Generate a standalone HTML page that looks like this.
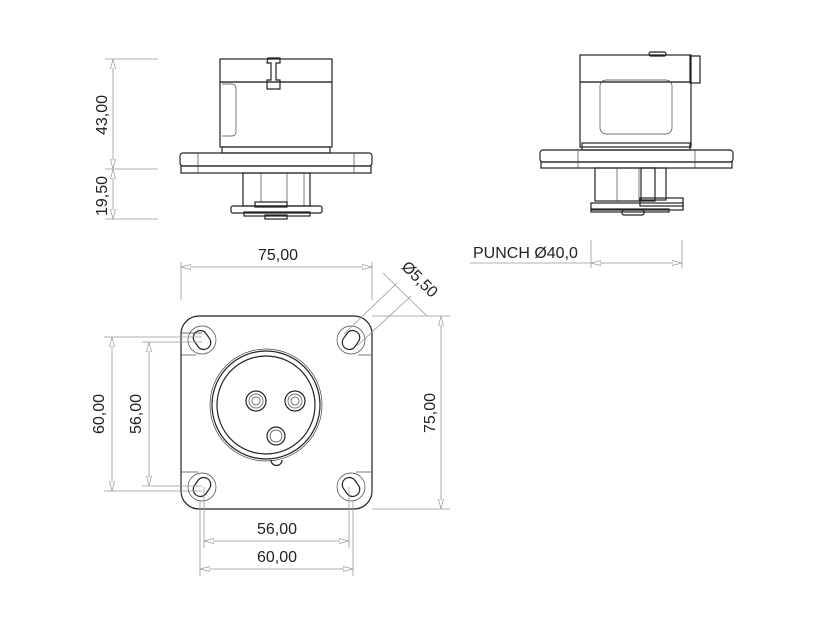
<!DOCTYPE html>
<html><head><style>
html,body{margin:0;padding:0;background:#fff}
svg{display:block}
text{font-family:"Liberation Sans",sans-serif;font-size:16px;fill:#222}
.o{fill:none;stroke:#222;stroke-width:1.2}
.t{fill:none;stroke:#444;stroke-width:0.7}
.d{fill:none;stroke:#999;stroke-width:0.8}
</style></head><body>
<svg width="825" height="625" viewBox="0 0 825 625" xmlns="http://www.w3.org/2000/svg">
<defs>
<marker id="m" markerWidth="10" markerHeight="6" refX="10" refY="3" orient="auto-start-reverse" markerUnits="userSpaceOnUse">
<path d="M0,0.5 L10,3 L0,5.5 Z" fill="#fff" stroke="#999" stroke-width="0.7"/></marker>
</defs>

<!-- FRONT VIEW -->
<rect class="o" x="220" y="59" width="112" height="23"/>
<rect class="o" x="220" y="82" width="112" height="65"/>
<path class="t" d="M222,84 h10 a4,4 0 0 1 4,4 v44 a4,4 0 0 1 -4,4 h-10"/>
<path class="o" d="M268,58 h12 v5 h-4 v17 h4 v9 h-13 v-9 h4 v-17 h-4 z"/>
<rect class="o" x="222" y="147" width="108" height="6"/>
<rect class="o" x="180" y="153" width="192" height="13" rx="3"/>
<rect class="o" x="181" y="166" width="190" height="7"/>
<line class="t" x1="198" y1="153" x2="198" y2="173"/><line class="t" x1="354" y1="153" x2="354" y2="173"/>
<rect class="o" x="243" y="173" width="67" height="33"/>
<line class="t" x1="261" y1="173" x2="261" y2="202"/><line class="t" x1="287" y1="173" x2="287" y2="202"/>
<line class="t" x1="304" y1="173" x2="304" y2="206"/>
<rect class="o" x="255" y="202" width="32" height="5"/>
<rect class="o" x="231" y="206" width="91" height="7" rx="2"/>
<rect class="o" x="244" y="212" width="66" height="4"/>
<rect class="o" x="265" y="215" width="22" height="4"/>

<!-- front dims -->
<line class="d" x1="105" y1="59" x2="158" y2="59"/>
<line class="d" x1="105" y1="169" x2="158" y2="169"/>
<line class="d" x1="105" y1="219" x2="158" y2="219"/>
<line class="d" x1="113" y1="59" x2="113" y2="169" marker-start="url(#m)" marker-end="url(#m)"/>
<line class="d" x1="113" y1="169" x2="113" y2="219" marker-start="url(#m)" marker-end="url(#m)"/>
<text transform="translate(107,115) rotate(-90)" text-anchor="middle">43,00</text>
<text transform="translate(107,196) rotate(-90)" text-anchor="middle">19,50</text>

<!-- SIDE VIEW -->
<rect class="o" x="649" y="52" width="17" height="4" rx="2"/>
<rect class="o" x="580" y="55" width="111" height="27"/>
<rect class="o" x="690" y="56" width="10" height="27"/>
<rect class="o" x="580" y="82" width="111" height="65"/>
<rect class="t" x="600" y="80" width="72" height="54" rx="6"/>
<rect class="o" x="582" y="143" width="108" height="7"/>
<rect class="o" x="540" y="150" width="193" height="12" rx="3"/>
<rect class="o" x="541" y="162" width="191" height="6"/>
<line class="t" x1="578" y1="150" x2="578" y2="168"/><line class="t" x1="695" y1="150" x2="695" y2="168"/>
<rect class="o" x="595" y="168" width="60" height="33"/>
<line class="t" x1="617" y1="168" x2="617" y2="201"/><line class="t" x1="639" y1="168" x2="639" y2="201"/>
<rect class="o" x="641" y="168" width="25" height="32"/>
<rect class="o" x="640" y="198" width="43" height="8"/>
<rect class="o" x="591" y="203" width="92" height="7"/>
<rect class="o" x="591" y="209" width="78" height="3"/>
<rect class="o" x="622" y="210" width="22" height="5" rx="2"/>

<!-- punch dim -->
<line class="d" x1="591" y1="240" x2="591" y2="268"/>
<line class="d" x1="682" y1="240" x2="682" y2="268"/>
<line class="d" x1="470" y1="263" x2="591" y2="263"/>
<line class="d" x1="591" y1="263" x2="682" y2="263" marker-start="url(#m)" marker-end="url(#m)"/>
<text x="473" y="258">PUNCH Ø40,0</text>

<!-- PLAN VIEW -->
<rect class="o" x="181" y="316" width="191" height="193" rx="18"/>
<line class="t" x1="181" y1="333" x2="202" y2="333"/>
<line class="t" x1="181" y1="355" x2="196" y2="355"/>
<line class="t" x1="181" y1="472" x2="198" y2="472"/>
<line class="t" x1="372" y1="355" x2="358" y2="355"/>
<line class="t" x1="372" y1="472" x2="356" y2="472"/>
<g class="t">
<circle cx="202" cy="340" r="14"/><circle cx="351" cy="340" r="14"/>
<circle cx="202" cy="487" r="14"/><circle cx="351" cy="487" r="14"/>
</g>
<g class="o">
<rect x="192" y="333" width="20" height="14" rx="7" transform="rotate(55 202 340)"/>
<rect x="341" y="333" width="20" height="14" rx="7" transform="rotate(-55 351 340)"/>
<rect x="192" y="480" width="20" height="14" rx="7" transform="rotate(-55 202 487)"/>
<rect x="341" y="480" width="20" height="14" rx="7" transform="rotate(55 351 487)"/>
</g>
<circle class="t" cx="266" cy="405" r="56"/>
<circle class="o" cx="266" cy="405" r="54"/>
<circle class="o" cx="266" cy="405" r="49"/>
<path class="o" d="M271,460 a5.5,5.5 0 0 0 11,0"/>
<circle class="o" cx="256" cy="401" r="10"/><circle class="t" cx="256" cy="401" r="7"/><circle class="t" cx="256" cy="401" r="4"/>
<circle class="o" cx="295" cy="401" r="10"/><circle class="t" cx="295" cy="401" r="7"/><circle class="t" cx="295" cy="401" r="4"/>
<circle class="o" cx="276" cy="436" r="9"/><circle class="t" cx="276" cy="436" r="6"/>

<!-- plan dims -->
<line class="d" x1="181" y1="262" x2="181" y2="300"/>
<line class="d" x1="372" y1="262" x2="372" y2="300"/>
<line class="d" x1="181" y1="267" x2="372" y2="267" marker-start="url(#m)" marker-end="url(#m)"/>
<text x="278" y="260" text-anchor="middle">75,00</text>

<line class="d" x1="372" y1="316" x2="450" y2="316"/>
<line class="d" x1="372" y1="509" x2="450" y2="509"/>
<line class="d" x1="441" y1="316" x2="441" y2="509" marker-start="url(#m)" marker-end="url(#m)"/>
<text transform="translate(435,413) rotate(-90)" text-anchor="middle">75,00</text>

<line class="d" x1="104" y1="337" x2="202" y2="337"/>
<line class="d" x1="104" y1="491" x2="202" y2="491"/>
<line class="d" x1="112" y1="337" x2="112" y2="491" marker-start="url(#m)" marker-end="url(#m)"/>
<text transform="translate(104,414) rotate(-90)" text-anchor="middle">60,00</text>
<line class="d" x1="142" y1="342" x2="202" y2="342"/>
<line class="d" x1="142" y1="486" x2="202" y2="486"/>
<line class="d" x1="149" y1="342" x2="149" y2="486" marker-start="url(#m)" marker-end="url(#m)"/>
<text transform="translate(141,414) rotate(-90)" text-anchor="middle">56,00</text>

<line class="d" x1="204" y1="487" x2="204" y2="548"/>
<line class="d" x1="349" y1="487" x2="349" y2="548"/>
<line class="d" x1="200" y1="500" x2="200" y2="576"/>
<line class="d" x1="353" y1="500" x2="353" y2="576"/>
<line class="d" x1="204" y1="541" x2="349" y2="541" marker-start="url(#m)" marker-end="url(#m)"/>
<line class="d" x1="200" y1="569" x2="353" y2="569" marker-start="url(#m)" marker-end="url(#m)"/>
<text x="277" y="534" text-anchor="middle">56,00</text>
<text x="277" y="562" text-anchor="middle">60,00</text>

<!-- dia leader -->
<line class="d" x1="344" y1="334" x2="397" y2="283"/>
<line class="d" x1="357" y1="346" x2="411" y2="296"/>
<line class="d" x1="383" y1="273" x2="427" y2="316"/>
<text transform="translate(416,283) rotate(45)" text-anchor="middle">Ø5,50</text>
</svg>
</body></html>
